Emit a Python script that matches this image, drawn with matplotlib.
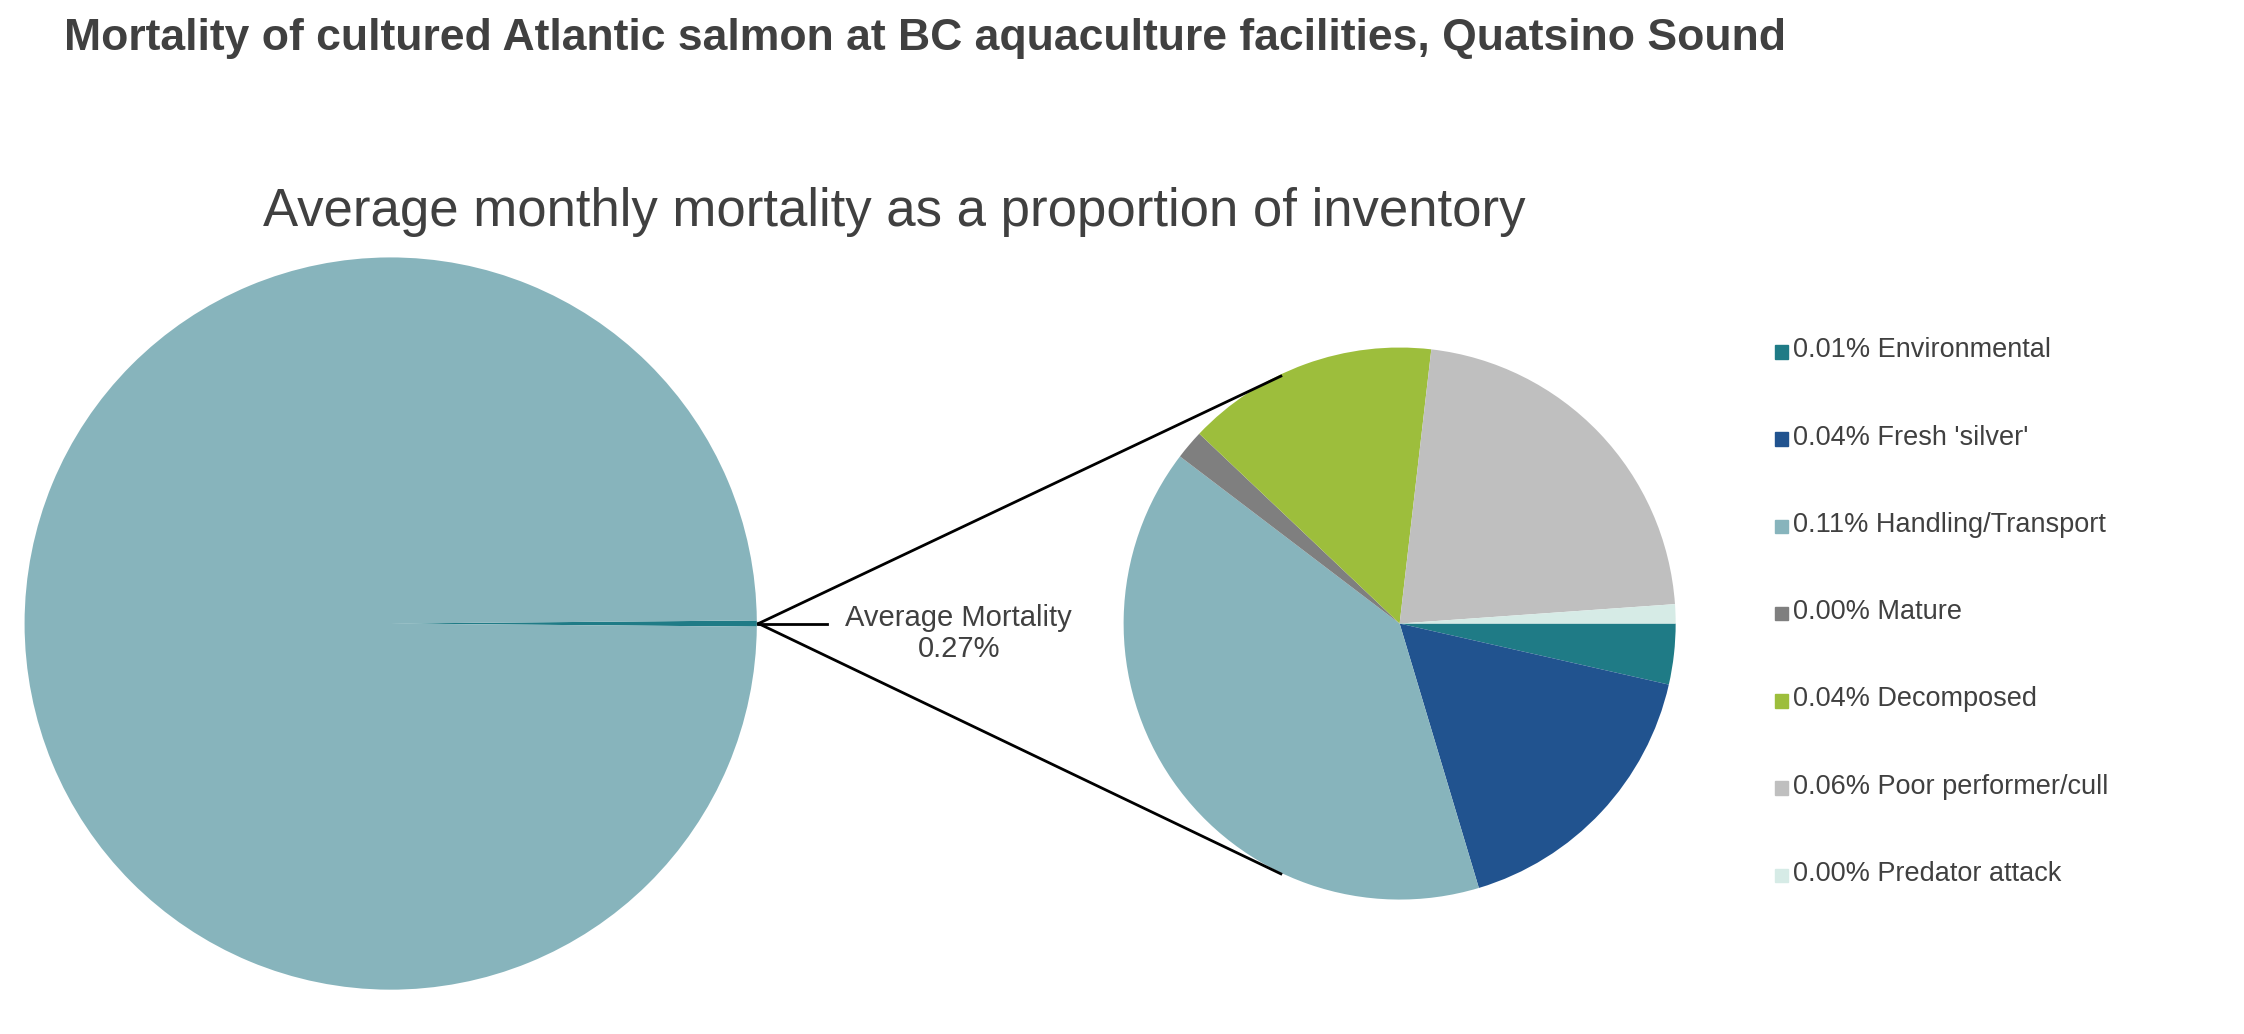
import matplotlib.pyplot as plt
from matplotlib.lines import Line2D

plt.rcParams['font.family'] = ['Liberation Sans', 'DejaVu Sans']

# data
labels = ["Environmental", "Fresh 'silver'", "Handling/Transport", "Mature",
          "Decomposed", "Poor performer/cull", "Predator attack"]
shown = ["0.01%", "0.04%", "0.11%", "0.00%", "0.04%", "0.06%", "0.00%"]
values = [0.0095, 0.045, 0.107, 0.0046, 0.0395, 0.059, 0.003]
colors = ["#1F7B86", "#21538F", "#87B4BC", "#7F7F7F", "#9DBE3C", "#BFBFBF", "#D6EBE6"]
total_mort = 0.27

W, H = 1568, 723
fig = plt.figure(figsize=(22.44, 10.34), dpi=100)
txt = "#404040"

def fx(x):
    return x / W

def fy(y):
    return 1 - y / H

# big pie
ax1 = fig.add_axes([fx(17), fy(692), fx(512), 512 / H])
ax1.pie([total_mort, 100 - total_mort], colors=["#1F7B86", "#87B4BC"],
        startangle=-total_mort * 3.6 / 2, counterclock=True)
ax1.set_xlim(-1, 1)
ax1.set_ylim(-1, 1)
ax1.set_aspect("equal")

# small pie
ax2 = fig.add_axes([fx(785), fy(629), fx(386), 386 / H])
ax2.pie(values, colors=colors, startangle=0, counterclock=False)
ax2.set_xlim(-1, 1)
ax2.set_ylim(-1, 1)
ax2.set_aspect("equal")

# connector lines
for y2 in (263, 611):
    fig.add_artist(Line2D([fx(530), fx(895)], [fy(436), fy(y2)],
                          transform=fig.transFigure, color="black", lw=2))
fig.add_artist(Line2D([fx(530), fx(578)], [fy(436), fy(436)],
                      transform=fig.transFigure, color="black", lw=2))
fig.text(fx(670), fy(443), "Average Mortality\n0.27%", ha="center", va="center",
         fontsize=21, color=txt, linespacing=1.1)

# titles
fig.text(fx(45), fy(27), "Mortality of cultured Atlantic salmon at BC aquaculture facilities, Quatsino Sound",
         fontsize=32, fontweight="bold", color=txt, va="center")
fig.text(fx(625), fy(148), "Average monthly mortality as a proportion of inventory",
         fontsize=38, color=txt, ha="center", va="center")

# legend
for i, (lab, s, c) in enumerate(zip(labels, shown, colors)):
    y = 245 + i * 61
    fig.patches.append(plt.Rectangle((fx(1240), fy(y) - 0.008), 0.006, 0.013,
                                     transform=fig.transFigure, color=c))
    fig.text(fx(1253), fy(y), f"{s} {lab}", fontsize=19.5, color=txt, va="center")

fig.savefig("out.png", dpi=100)
